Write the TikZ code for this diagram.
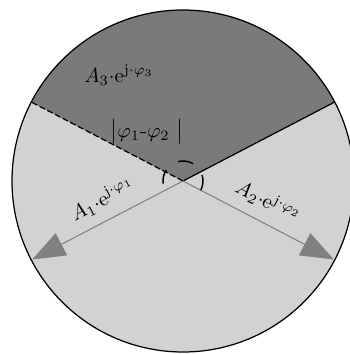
\documentclass[tikz,border=0pt]{standalone}
\usepackage{amsmath,amssymb}
\usepackage{xcolor}
\usepackage{tikz}
\usetikzlibrary{arrows.meta,calc}
\definecolor{GrisOscuro}{RGB}{122,122,122}
\definecolor{GrisClaro}{RGB}{210,210,210}
\definecolor{GrisVector}{RGB}{128,128,128}

\begin{document}
\begin{tikzpicture}[x=0.486pt,y=0.486pt,
    vec/.style={GrisVector,line width=0.5pt,-{Triangle[length=16pt,width=12pt]}},
    etiq/.style={text=black,inner sep=2pt}]
  \useasboundingbox (0,0) rectangle (350,354);
  \coordinate (O) at (183,173);
  \coordinate (B1) at ($(O)+(152.5:171)$);
  \coordinate (B2) at ($(O)+(27.5:171)$);
  \coordinate (T1) at ($(O)+(207.5:170)$);
  \coordinate (T2) at ($(O)+(332.5:170)$);
  % disco y sector
  \fill[GrisClaro] (O) circle (171);
  \fill[GrisOscuro] (O) -- (B2) arc (27.5:152.5:171) -- cycle;
  \draw[line width=0.6pt] (O) circle (171);
  \draw[line width=0.6pt,dash pattern=on 3pt off 1.2pt] (O) -- (B1);
  \draw[line width=0.6pt] (O) -- (B2);
  % vectores
  \draw[vec] (O) -- node[etiq,sloped,above=3pt,pos=0.47] (lA1) {$A_1{\cdot}\mathrm{e}^{\mathrm{j}\cdot\varphi_1}$} (T1);
  \draw[vec] (O) -- node[etiq,sloped,above=3pt,pos=0.50] (lA2) {$A_2{\cdot}\mathrm{e}^{\mathrm{j}\cdot\varphi_2}$} (T2);
  \draw[line width=0.7pt,dash pattern=on 7.6pt off 7.2pt] ($(O)+(-27.5:20)$) arc (-27.5:187.5:20);
  \node[etiq] (lA3) at (119,279) {$A_3{\cdot}\mathrm{e}^{\mathrm{j}\cdot\varphi_3}$};
  \node[etiq] (lDif) at (147,222) {$\big|\varphi_1\text{-}\varphi_2\ \big|$};
\end{tikzpicture}
\end{document}
